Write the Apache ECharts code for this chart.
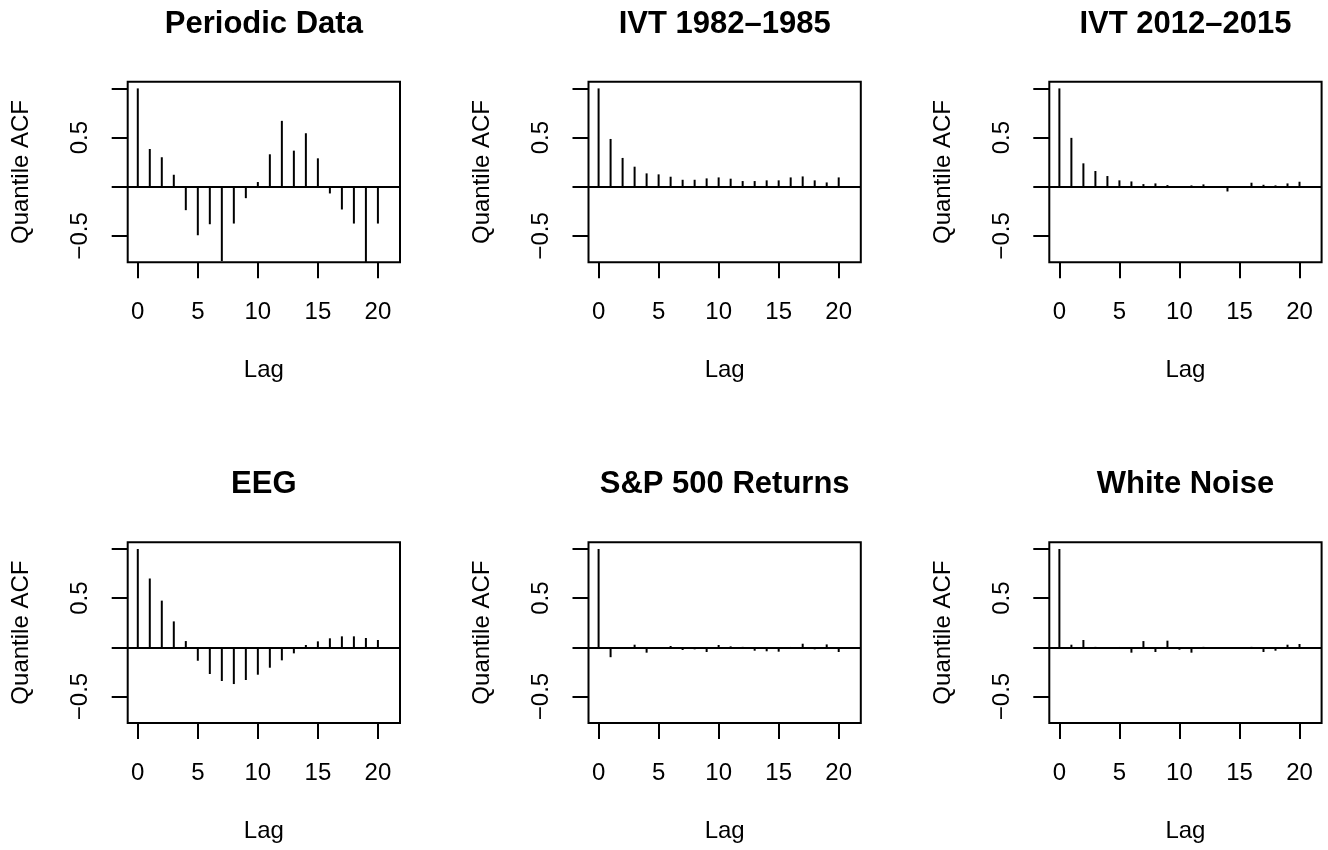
<!DOCTYPE html>
<html>
<head>
<meta charset="utf-8">
<script src="https://cdn.jsdelivr.net/npm/echarts@6/dist/echarts.min.js"></script>
<style>
  html, body { margin: 0; padding: 0; background: #ffffff; }
  #chart { width: 1328px; height: 850px; }
</style>
</head>
<body>
<div id="chart"></div>
<script>
// Quantile autocorrelation by lag, one panel per series
const lags = [0, 1, 2, 3, 4, 5, 6, 7, 8, 9, 10, 11, 12, 13, 14, 15, 16, 17, 18, 19, 20];

const periodicData = [1.0, 0.384, 0.30, 0.122, -0.238, -0.493, -0.381, -0.755, -0.374, -0.116, 0.048,
  0.33, 0.67, 0.367, 0.544, 0.289, -0.068, -0.231, -0.374, -0.80, -0.374];
const ivt19821985 = [1.0, 0.486, 0.293, 0.204, 0.136, 0.126, 0.102, 0.071, 0.071, 0.085, 0.095,
  0.082, 0.058, 0.058, 0.065, 0.065, 0.095, 0.105, 0.065, 0.044, 0.095];
const ivt20122015 = [1.0, 0.497, 0.238, 0.16, 0.109, 0.065, 0.054, 0.027, 0.034, 0.017, -0.007,
  0.014, 0.024, -0.007, -0.048, 0.003, 0.041, 0.02, 0.014, 0.034, 0.051];
const eeg = [1.0, 0.70, 0.475, 0.264, 0.064, -0.136, -0.271, -0.342, -0.373, -0.332, -0.278,
  -0.207, -0.132, -0.061, 0.024, 0.061, 0.092, 0.112, 0.112, 0.095, 0.075];
const sp500Returns = [1.0, -0.10, -0.008, 0.027, -0.054, -0.005, 0.014, -0.027, -0.02, -0.047, 0.024,
  0.01, 0.005, -0.034, -0.04, -0.044, 0.004, 0.037, -0.02, 0.03, -0.047];
const whiteNoise = [1.0, 0.027, 0.075, 0.005, -0.005, 0.004, -0.054, 0.064, -0.047, 0.068, -0.024,
  -0.054, 0.005, 0.003, -0.005, 0.003, 0.005, -0.047, -0.034, 0.027, 0.034];

const panelTitles = ['Periodic Data', 'IVT 1982\u20131985', 'IVT 2012\u20132015',
  'EEG', 'S&P 500 Returns', 'White Noise'];
const panelSeries = [periodicData, ivt19821985, ivt20122015, eeg, sp500Returns, whiteNoise];

const xTicks = [0, 5, 10, 15, 20];
const yTicks = [-0.5, 0, 0.5, 1.0];
const yTickLabels = [-0.5, 0.5];
const xRange = [-0.84, 21.84];
const yRange = [-0.768, 1.068];

const xLabel = 'Lag';
const yLabel = 'Quantile ACF';

// panel layout (pixels)
const FONT = '"Liberation Sans", Arial, Helvetica, sans-serif';
const boxLeft0 = 127.7, boxTop0 = 81.7, colStep = 460.8, rowStep = 460.6;
const boxW = 272.3, boxH = 180.6;
const labelSize = 24, titleSize = 31;

const grids = [], xAxes = [], yAxes = [], series = [], titles = [];

panelSeries.forEach((vals, i) => {
  const col = i % 3, row = Math.floor(i / 3);
  const left = boxLeft0 + col * colStep;
  const top = boxTop0 + row * rowStep;

  grids.push({
    left: left, top: top, width: boxW, height: boxH,
    show: true, borderColor: '#000', borderWidth: 2, backgroundColor: 'transparent',
    containLabel: false
  });

  titles.push({
    text: panelTitles[i],
    left: left + boxW / 2,
    top: top - 73,
    textAlign: 'center',
    padding: 0,
    textStyle: { fontFamily: FONT, fontWeight: 'bold', fontSize: titleSize, color: '#000' }
  });

  xAxes.push({
    gridIndex: i, type: 'value', min: xRange[0], max: xRange[1],
    splitLine: { show: false },
    axisLine: { show: false, onZero: false },
    axisTick: { show: true, customValues: xTicks, length: 16, inside: false,
      lineStyle: { color: '#000', width: 2 } },
    axisLabel: { show: true, customValues: xTicks, margin: 38,
      fontFamily: FONT, fontSize: labelSize, color: '#000' },
    name: xLabel, nameLocation: 'middle', nameGap: 96,
    nameTextStyle: { fontFamily: FONT, fontSize: labelSize, color: '#000' }
  });

  yAxes.push({
    gridIndex: i, type: 'value', min: yRange[0], max: yRange[1],
    splitLine: { show: false },
    axisLine: { show: false, onZero: false },
    axisTick: { show: true, customValues: yTicks, length: 16, inside: false,
      lineStyle: { color: '#000', width: 2 } },
    axisLabel: { show: true, customValues: yTickLabels, rotate: 90, margin: 35,
      fontFamily: FONT, fontSize: labelSize, color: '#000',
      formatter: v => (v < 0 ? '\u2212' : '') + Math.abs(v).toFixed(1) },
    name: yLabel, nameLocation: 'middle', nameGap: 94,
    nameTextStyle: { fontFamily: FONT, fontSize: labelSize, color: '#000' }
  });

  series.push({
    type: 'bar',
    xAxisIndex: i, yAxisIndex: i,
    data: lags.map((lag, k) => [lag, vals[k]]),
    barWidth: 2,
    clip: true,
    itemStyle: { color: '#000' },
    silent: true,
    markLine: {
      silent: true, symbol: 'none', animation: false,
      label: { show: false },
      lineStyle: { color: '#000', width: 2, type: 'solid' },
      data: [{ yAxis: 0 }]
    }
  });
});

const chart = echarts.init(document.getElementById('chart'), null, { renderer: 'canvas' });
chart.setOption({
  backgroundColor: '#ffffff',
  animation: false,
  title: titles,
  grid: grids,
  xAxis: xAxes,
  yAxis: yAxes,
  series: series
});
</script>
</body>
</html>
